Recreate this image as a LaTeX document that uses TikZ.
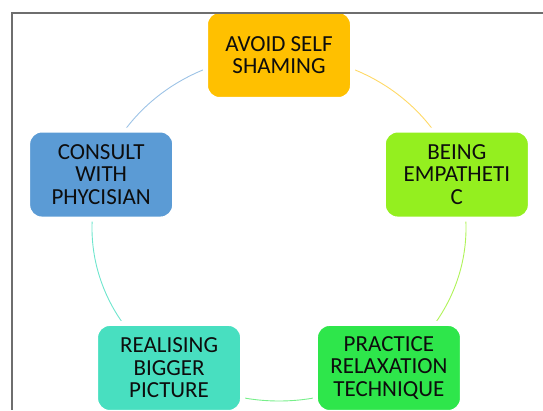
\documentclass[tikz,border=0pt]{standalone}
\usepackage{fontspec}
\setmainfont{Carlito}
\usepackage{xcolor}
\definecolor{CycGold}{HTML}{FFC000}
\definecolor{CycLime}{HTML}{94EF1F}
\definecolor{CycGreen}{HTML}{2EE64B}
\definecolor{CycTeal}{HTML}{48DFC0}
\definecolor{CycBlue}{HTML}{5B9BD5}
\definecolor{FrameGray}{HTML}{6E6E6E}
\usepackage{tikz}
\usetikzlibrary{backgrounds}

\begin{document}
\begin{tikzpicture}[x=1pt, y=1pt,
  stage/.style={rectangle, rounded corners=14pt, draw=white, line width=5pt,
    minimum width=147pt, minimum height=89pt, inner sep=0pt, align=center,
    text=black!95, font=\fontsize{23}{22.6}\selectfont},
  ring/.style={line width=0.9pt}]
\useasboundingbox (0,0) rectangle (543,410);

% Five stages sitting on one ellipse
\begin{scope}[shift={(279,182)}]
\node[stage, fill=CycGold]  (avoid)   at (90:187 and 173)  {AVOID SELF\\SHAMING};
\node[stage, fill=CycLime]  (empath)  at (18:187 and 173)  {BEING\\EMPATHETI\\C};
\node[stage, fill=CycGreen] (relax)   at (-54:187 and 173) {PRACTICE\\RELAXATION\\TECHNIQUE};
\node[stage, fill=CycTeal]  (bigger)  at (234:187 and 173) {REALISING\\BIGGER\\PICTURE};
\node[stage, fill=CycBlue]  (consult) at (162:187 and 173) {CONSULT\\WITH\\PHYCISIAN};

% Cycle arcs, coloured after the stage they leave
\begin{scope}[on background layer]
\draw[ring, CycGold!60]  (avoid.center)   arc[start angle=90,  end angle=18,  x radius=187, y radius=173];
\draw[ring, CycLime!75]  (empath.center)  arc[start angle=18,  end angle=-54, x radius=187, y radius=173];
\draw[ring, CycGreen!65] (relax.center)   arc[start angle=306, end angle=234, x radius=187, y radius=173];
\draw[ring, CycTeal!80]  (bigger.center)  arc[start angle=234, end angle=162, x radius=187, y radius=173];
\draw[ring, CycBlue!60]  (consult.center) arc[start angle=162, end angle=90,  x radius=187, y radius=173];
\end{scope}
\end{scope}

% Frame edges
\draw[FrameGray, line width=1.1pt] (543,397) -- (12,397) -- (12,0);
\end{tikzpicture}
\end{document}
